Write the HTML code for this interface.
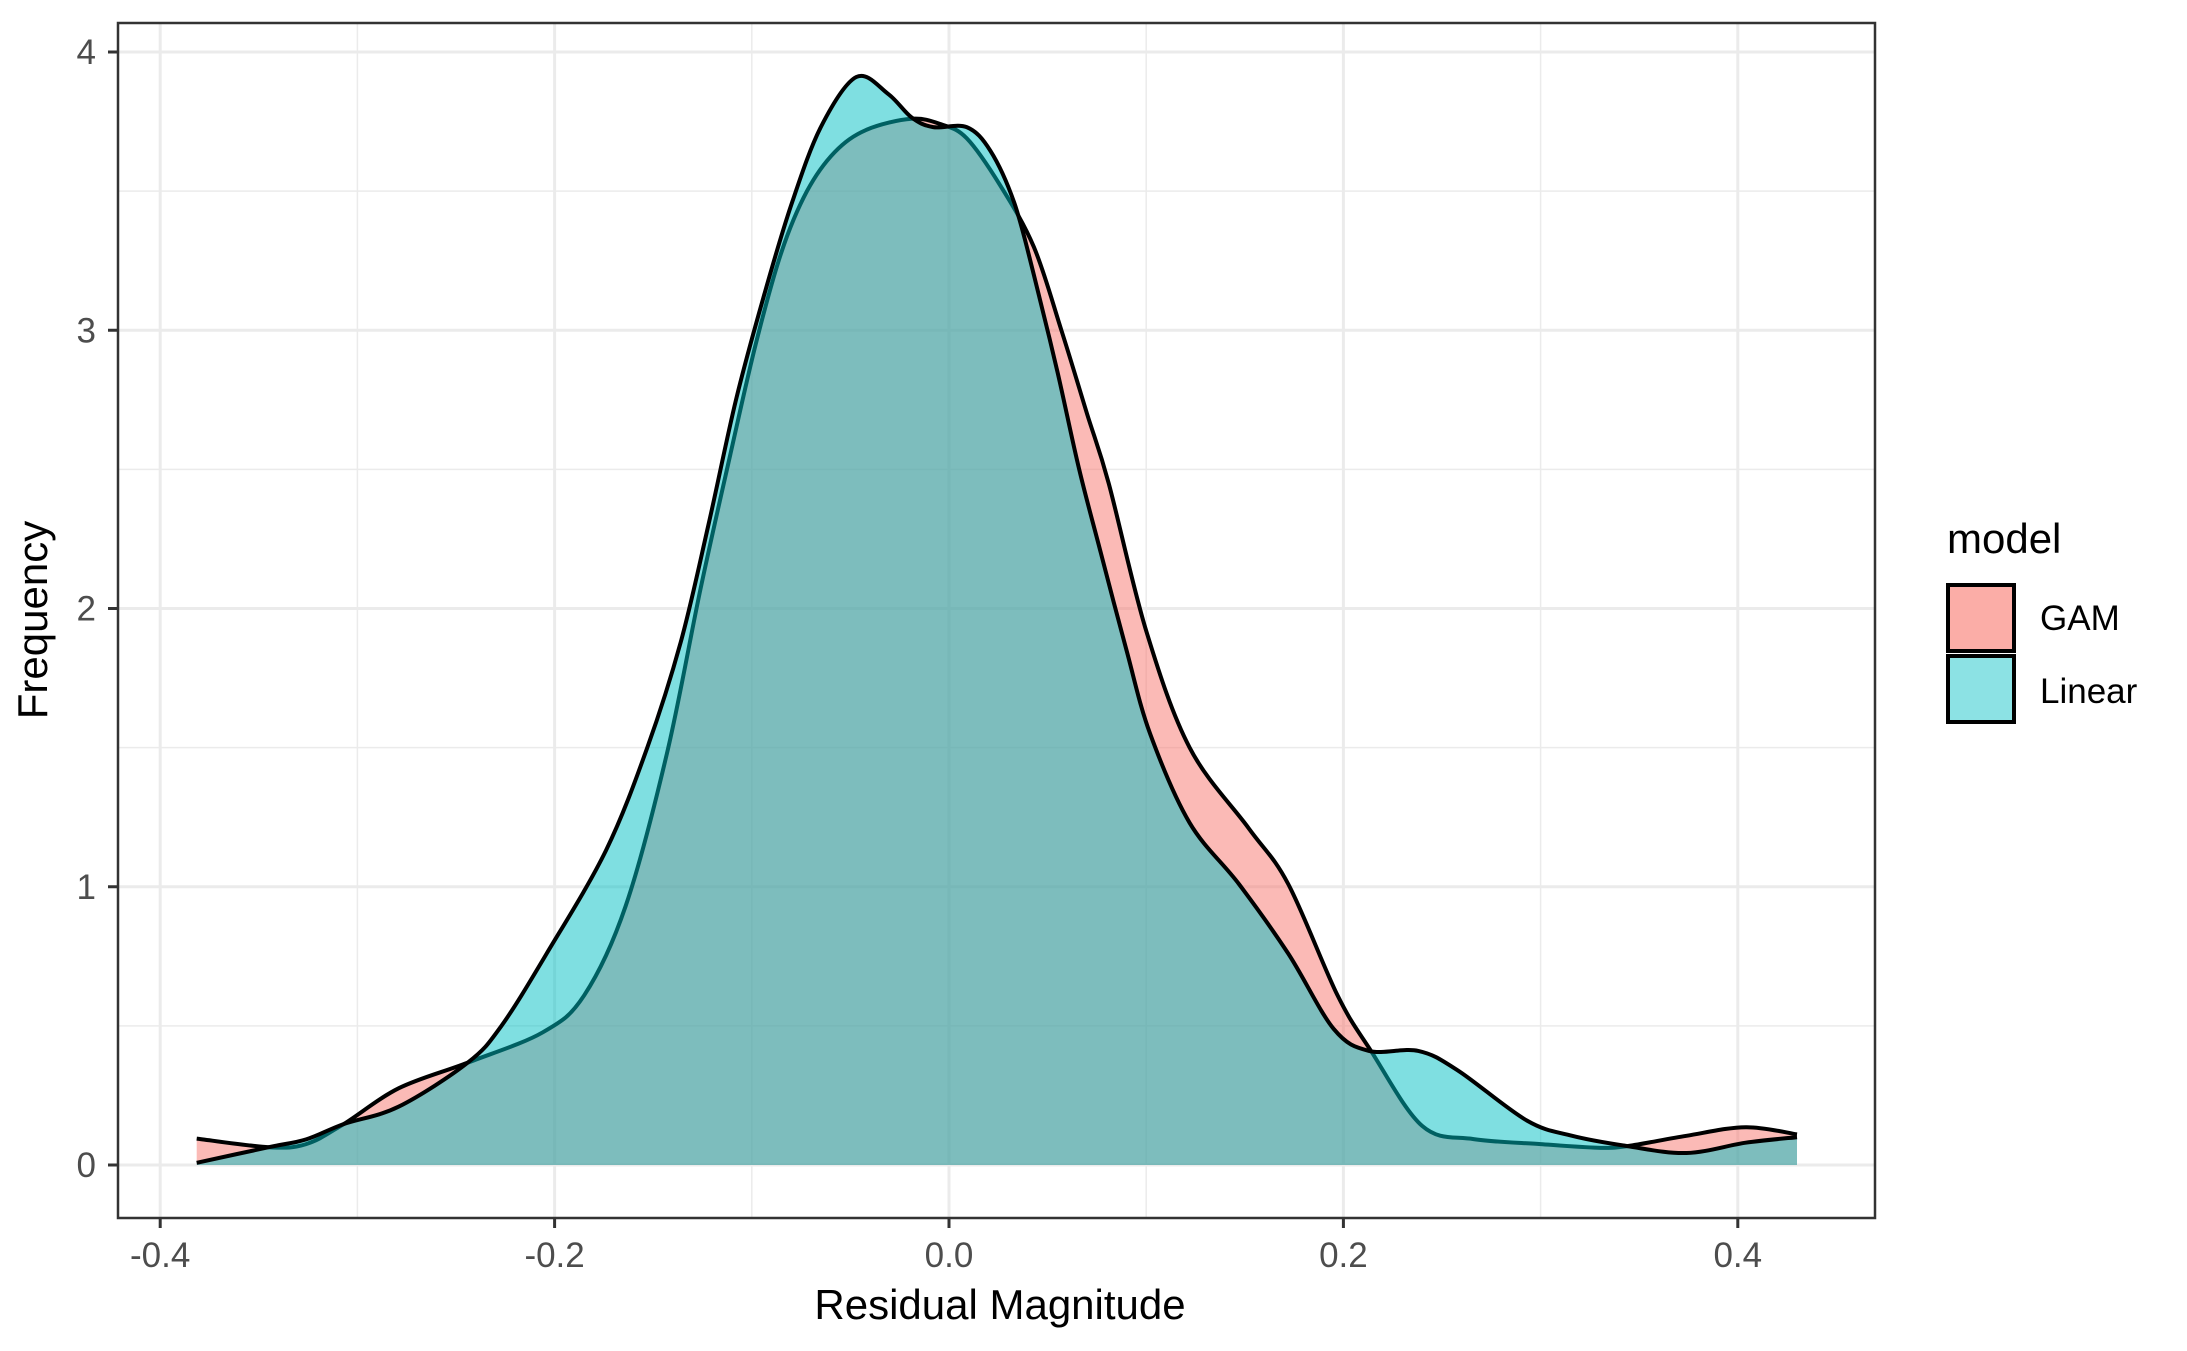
<!DOCTYPE html>
<html><head><meta charset="utf-8"><style>
html,body{margin:0;padding:0;background:#fff;}
svg{display:block;font-family:"Liberation Sans",Arial,sans-serif;}
</style></head><body>
<svg id="chart" width="2187" height="1351" viewBox="0 0 2187 1351">
<rect width="2187" height="1351" fill="#fff"/>
<g id="grid"></g>
<g id="series"></g>
<rect x="118" y="23" width="1757" height="1195" fill="none" stroke="#333" stroke-width="2.5"/>
<g id="axes"></g>
<text x="1000" y="1319" font-size="42" text-anchor="middle" fill="#000">Residual Magnitude</text>
<text x="0" y="0" font-size="42" text-anchor="middle" fill="#000" transform="translate(47,620) rotate(-90)">Frequency</text>
<g>
<text x="1947" y="553" font-size="42" fill="#000">model</text>
<rect x="1948" y="585" width="66" height="66" fill="#F8766D" fill-opacity="0.6" stroke="#000" stroke-width="4"/>
<text x="2040" y="630" font-size="35" fill="#000">GAM</text>
<rect x="1948" y="656" width="66" height="66" fill="#00BFC4" fill-opacity="0.45" stroke="#000" stroke-width="4"/>
<text x="2040" y="703" font-size="35" fill="#000">Linear</text>
</g>
</svg>
<script>
const gamX = [-0.3815,-0.345,-0.326,-0.307,-0.279,-0.244,-0.206,-0.185,-0.164,-0.143,-0.126,-0.111,-0.098,-0.085,-0.072,-0.058,-0.042,-0.019,-0.004,0.009,0.026,0.043,0.057,0.07,0.081,0.1,0.122,0.152,0.172,0.197,0.214,0.24,0.266,0.3,0.329,0.344,0.374,0.404,0.43];
const gamY = [0.095,0.064,0.075,0.147,0.276,0.368,0.477,0.61,0.93,1.48,2.07,2.55,2.95,3.28,3.5,3.64,3.72,3.76,3.74,3.69,3.52,3.3,3.0,2.7,2.45,1.92,1.50,1.21,1.01,0.61,0.41,0.14,0.093,0.075,0.062,0.068,0.105,0.136,0.11];
const linX = [-0.3815,-0.345,-0.326,-0.307,-0.279,-0.244,-0.227,-0.204,-0.174,-0.153,-0.136,-0.122,-0.108,-0.094,-0.08,-0.065,-0.047,-0.031,-0.019,-0.008,0.009,0.021,0.033,0.043,0.055,0.066,0.077,0.09,0.102,0.122,0.147,0.172,0.195,0.213,0.238,0.258,0.293,0.316,0.344,0.374,0.404,0.43];
const linY = [0.008,0.064,0.092,0.147,0.21,0.368,0.50,0.76,1.13,1.50,1.88,2.3,2.75,3.12,3.45,3.73,3.91,3.85,3.765,3.73,3.73,3.645,3.46,3.2,2.85,2.5,2.2,1.85,1.55,1.23,1.01,0.76,0.49,0.41,0.41,0.34,0.16,0.105,0.068,0.043,0.08,0.1];
const xTicks = [-0.4,-0.2,0.0,0.2,0.4];
const xTickLabels = ["-0.4","-0.2","0.0","0.2","0.4"];
const xMinor = [-0.3,-0.1,0.1,0.3];
const yTicks = [0,1,2,3,4];
const yTickLabels = ["0","1","2","3","4"];
const yMinor = [0.5,1.5,2.5,3.5];

const NS = "http://www.w3.org/2000/svg";
const PL=118, PR=1875, PT=23, PB=1218;
function sx(v){ return 949 + v*1972; }
function sy(v){ return 1165 - v*278.25; }
function mk(tag, attrs, parent){
  const e = document.createElementNS(NS, tag);
  for (const k in attrs) e.setAttribute(k, attrs[k]);
  parent.appendChild(e); return e;
}
const grid = document.getElementById('grid');
const axes = document.getElementById('axes');
const series = document.getElementById('series');
xMinor.forEach(v=>{ const l=mk('line',{x1:sx(v),x2:sx(v),y1:PT,y2:PB,stroke:'#EBEBEB','stroke-width':1.5},grid);
  
   });
yMinor.forEach(v=>{ const l=mk('line',{x1:PL,x2:PR,y1:sy(v),y2:sy(v),stroke:'#EBEBEB','stroke-width':1.5},grid);
  
   });
xTicks.forEach((v,i)=>{
  const l=mk('line',{x1:sx(v),x2:sx(v),y1:PT,y2:PB,stroke:'#EBEBEB','stroke-width':3},grid);
  
  
  const t=mk('line',{x1:sx(v),x2:sx(v),y1:PB,y2:PB+10,stroke:'#333','stroke-width':3},axes);
  
  
  const tx=mk('text',{x:sx(v),y:1267,'font-size':35,'text-anchor':'middle',fill:'#4D4D4D'},axes);
  tx.textContent=xTickLabels[i];
  
  
});
yTicks.forEach((v,i)=>{
  const l=mk('line',{x1:PL,x2:PR,y1:sy(v),y2:sy(v),stroke:'#EBEBEB','stroke-width':3},grid);
  
  
  const t=mk('line',{x1:PL-10,x2:PL,y1:sy(v),y2:sy(v),stroke:'#333','stroke-width':3},axes);
  
  
  const tx=mk('text',{x:96,y:sy(v)+12,'font-size':35,'text-anchor':'end',fill:'#4D4D4D'},axes);
  tx.textContent=yTickLabels[i];
  
  
});
function smoothPath(xs, ys){
  const p = xs.map((x,i)=>[sx(x), sy(ys[i])]);
  let d = 'M'+p[0][0].toFixed(1)+','+p[0][1].toFixed(1);
  for (let i=0;i<p.length-1;i++){
    const p0=p[Math.max(0,i-1)], p1=p[i], p2=p[i+1], p3=p[Math.min(p.length-1,i+2)];
    const c1x=p1[0]+(p2[0]-p0[0])/6, c1y=p1[1]+(p2[1]-p0[1])/6;
    const c2x=p2[0]-(p3[0]-p1[0])/6, c2y=p2[1]-(p3[1]-p1[1])/6;
    d+=' C'+c1x.toFixed(1)+','+c1y.toFixed(1)+' '+c2x.toFixed(1)+','+c2y.toFixed(1)+' '+p2[0].toFixed(1)+','+p2[1].toFixed(1);
  }
  return d;
}
function drawSeries(xs, ys, color, name){
  const line = smoothPath(xs, ys);
  const area = line + ' L'+sx(xs[xs.length-1]).toFixed(1)+','+sy(0)+' L'+sx(xs[0]).toFixed(1)+','+sy(0)+' Z';
  const a = mk('path',{d:area,fill:color,'fill-opacity':0.5,stroke:'none'},series);
  
  
  const l = mk('path',{d:line,fill:'none',stroke:'#000','stroke-width':4,'stroke-linejoin':'round'},series);
  
  
}
drawSeries(gamX, gamY, '#F8766D', 'gam');
drawSeries(linX, linY, '#00BFC4', 'linear');
</script>
</body></html>
